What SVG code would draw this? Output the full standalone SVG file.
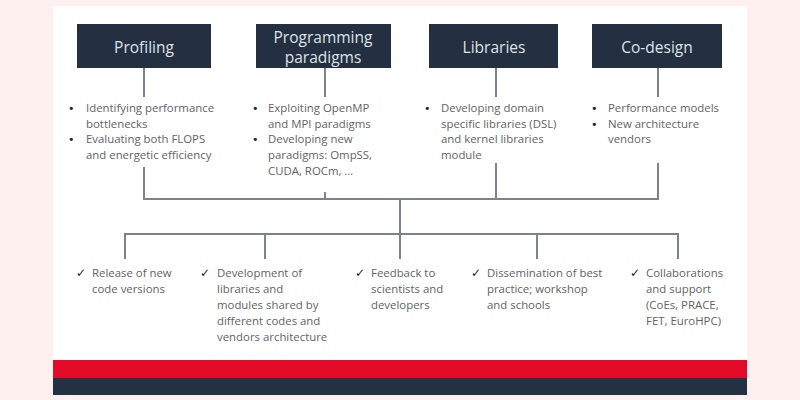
<svg xmlns="http://www.w3.org/2000/svg" width="800" height="400" viewBox="0 0 800 400">
<style>
.box{fill:#243041}
.hd{font-family:"Open Sans","Noto Sans",sans-serif;font-size:15.5px;fill:#dfe2e7;text-anchor:middle}
.tx{font-family:"Open Sans","Noto Sans",sans-serif;font-size:11.4px;fill:#636363}
.bl{font-family:"DejaVu Sans",sans-serif;font-size:11px;fill:#222}
.ck{font-family:"DejaVu Sans",sans-serif;font-size:12px;fill:#222}
.ln{stroke:#7d8290;stroke-width:2;fill:none}
</style>
<rect width="800" height="400" fill="#fdf0ef"/>
<rect x="53" y="6" width="694" height="389" fill="#ffffff"/>
<rect x="53" y="360" width="694" height="18" fill="#e30a27"/>
<rect x="53" y="378" width="694" height="17" fill="#243142"/>
<g id="connectors" class="ln">
<path d="M144 68V97M325 68V97M496 68V97M658 68V97"/>
<path d="M144 167V199H658V163M325 192V199M496 163V199"/>
<path d="M400 199V234"/>
<path d="M125 259V234H678V259M265 234V259M400 234V259M537 234V259"/>
</g>
<g id="profiling">
<rect class="box" x="77" y="24" width="134" height="44"/>
<text class="hd" x="144" y="53">Profiling</text>
<text class="bl" x="68" y="112">•</text>
<text class="tx" x="86" y="112">Identifying performance</text>
<text class="tx" x="86" y="128">bottlenecks</text>
<text class="bl" x="68" y="143">•</text>
<text class="tx" x="86" y="143">Evaluating both FLOPS</text>
<text class="tx" x="86" y="159">and energetic efficiency</text>
</g>
<g id="programming">
<rect class="box" x="256" y="24" width="135" height="44"/>
<text class="hd" x="323" y="43">Programming</text>
<text class="hd" x="323" y="63">paradigms</text>
<text class="bl" x="252" y="112">•</text>
<text class="tx" x="268" y="112">Exploiting OpenMP</text>
<text class="tx" x="268" y="128">and MPI paradigms</text>
<text class="bl" x="252" y="143">•</text>
<text class="tx" x="268" y="143">Developing new</text>
<text class="tx" x="268" y="159">paradigms: OmpSS,</text>
<text class="tx" x="268" y="175">CUDA, ROCm, …</text>
</g>
<g id="libraries">
<rect class="box" x="429" y="24" width="129" height="44"/>
<text class="hd" x="494" y="53">Libraries</text>
<text class="bl" x="424" y="112">•</text>
<text class="tx" x="441" y="112">Developing domain</text>
<text class="tx" x="441" y="128">specific libraries (DSL)</text>
<text class="tx" x="441" y="143">and kernel libraries</text>
<text class="tx" x="441" y="159">module</text>
</g>
<g id="codesign">
<rect class="box" x="592" y="24" width="130" height="44"/>
<text class="hd" x="657" y="53">Co-design</text>
<text class="bl" x="591" y="112">•</text>
<text class="tx" x="608" y="112">Performance models</text>
<text class="bl" x="591" y="128">•</text>
<text class="tx" x="608" y="128">New architecture</text>
<text class="tx" x="608" y="143">vendors</text>
</g>
<g id="release">
<text class="ck" x="76" y="277">✓</text>
<text class="tx" x="92" y="277">Release of new</text>
<text class="tx" x="92" y="293">code versions</text>
</g>
<g id="development">
<text class="ck" x="200" y="277">✓</text>
<text class="tx" x="217" y="277">Development of</text>
<text class="tx" x="217" y="293">libraries and</text>
<text class="tx" x="217" y="309">modules shared by</text>
<text class="tx" x="217" y="325">different codes and</text>
<text class="tx" x="217" y="341">vendors architecture</text>
</g>
<g id="feedback">
<text class="ck" x="355" y="277">✓</text>
<text class="tx" x="371" y="277">Feedback to</text>
<text class="tx" x="371" y="293">scientists and</text>
<text class="tx" x="371" y="309">developers</text>
</g>
<g id="dissemination">
<text class="ck" x="471" y="277">✓</text>
<text class="tx" x="487" y="277">Dissemination of best</text>
<text class="tx" x="487" y="293">practice; workshop</text>
<text class="tx" x="487" y="309">and schools</text>
</g>
<g id="collaborations">
<text class="ck" x="630" y="277">✓</text>
<text class="tx" x="646" y="277">Collaborations</text>
<text class="tx" x="646" y="293">and support</text>
<text class="tx" x="646" y="309">(CoEs, PRACE,</text>
<text class="tx" x="646" y="325">FET, EuroHPC)</text>
</g>
</svg>
